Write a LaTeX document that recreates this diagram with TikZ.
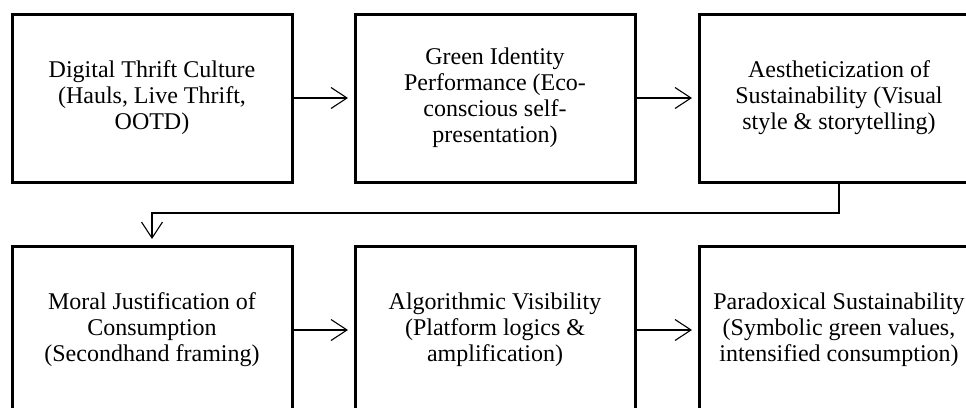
\documentclass[tikz,border=0pt]{standalone}
\usepackage{fontspec}
\setmainfont{Liberation Serif}
\usetikzlibrary{arrows.meta}
\begin{document}
\begin{tikzpicture}[x=1pt,y=-1pt,
  stagebox/.style={draw=black, line width=3pt, minimum width=280pt, minimum height=168pt,
    inner sep=0pt, outer sep=0pt, align=center, font=\fontsize{24}{26}\selectfont},
  flowarrow/.style={line width=1.1pt, -{Straight Barb[length=16pt,width=21pt,line width=1.1pt]}, shorten >=7pt}]
\useasboundingbox (0,0) rectangle (966,407);
% top row
\node[stagebox] (b1) at (152,98) {Digital Thrift Culture\\(Hauls, Live Thrift,\\OOTD)};
\node[stagebox] (b2) at (495,98) {Green Identity\\Performance (Eco-\\conscious self-\\presentation)};
\node[stagebox] (b3) at (839,98) {Aestheticization of\\Sustainability (Visual\\style \& storytelling)};
% bottom row
\node[stagebox] (b4) at (152,330) {Moral Justification of\\Consumption\\(Secondhand framing)};
\node[stagebox] (b5) at (495,330) {Algorithmic Visibility\\(Platform logics \&\\amplification)};
\node[stagebox] (b6) at (839,330) {Paradoxical Sustainability\\(Symbolic green values,\\intensified consumption)};
% connectors
\draw[flowarrow] (b1.east) -- (b2.west);
\draw[flowarrow] (b2.east) -- (b3.west);
\draw[flowarrow] (b3.south) -- ++(0,31) -| (b4.north);
\draw[flowarrow] (b4.east) -- (b5.west);
\draw[flowarrow] (b5.east) -- (b6.west);
\end{tikzpicture}
\end{document}
